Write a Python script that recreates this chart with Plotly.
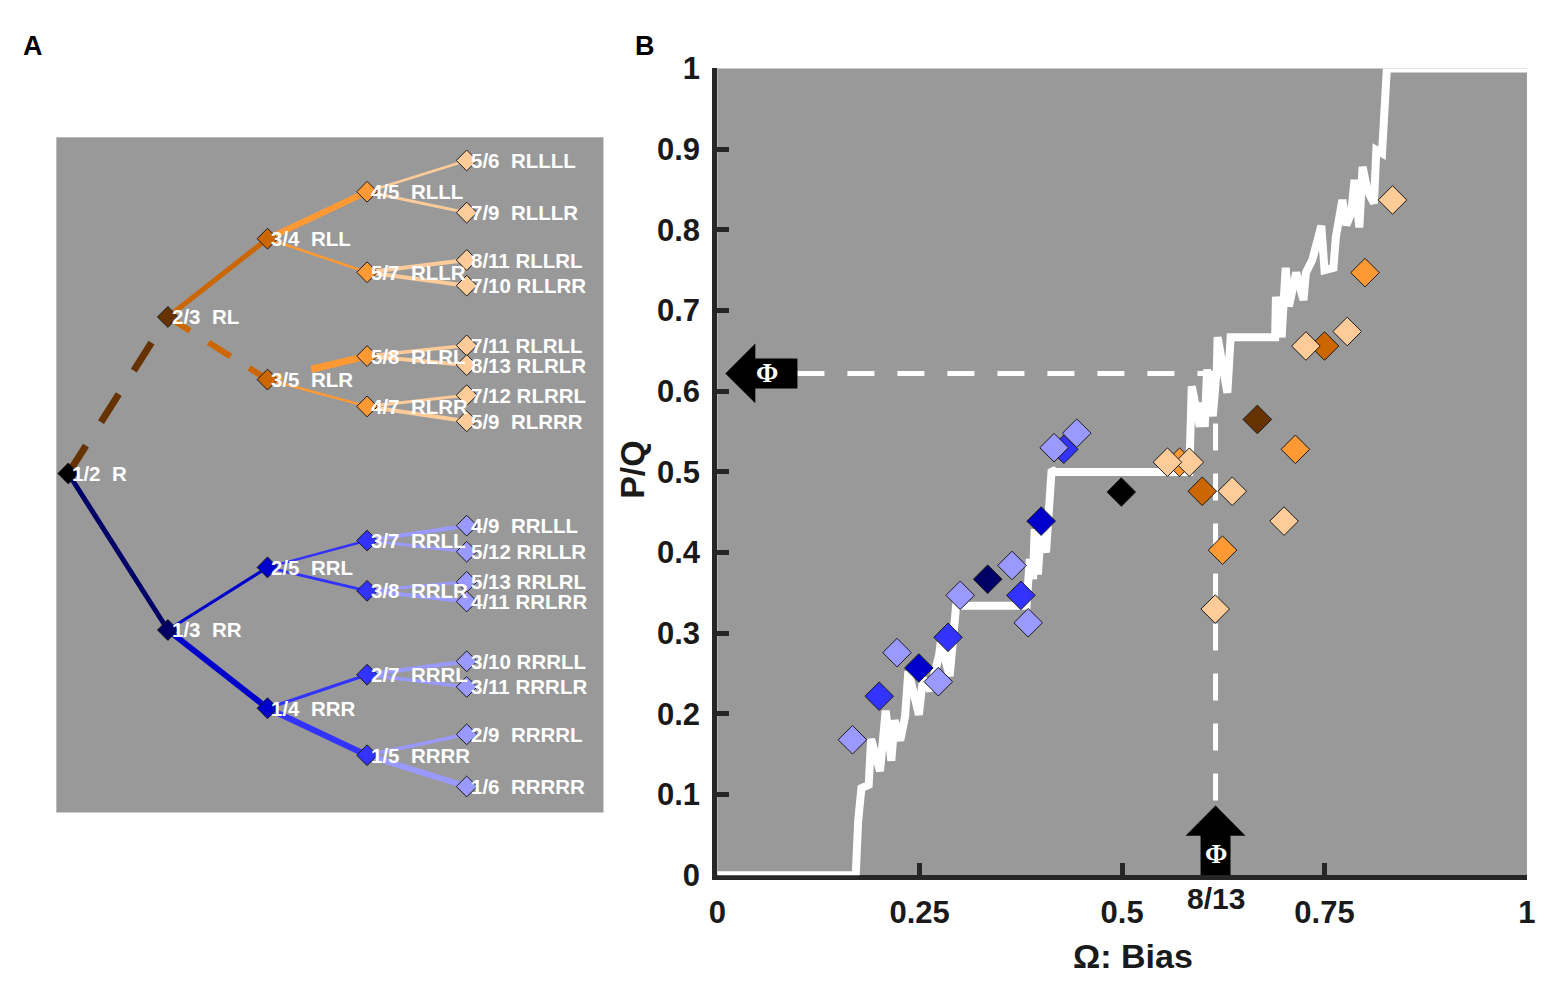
import plotly.graph_objects as go
from fractions import Fraction

# ---- data -------------------------------------------------------------
# nodes of the Farey-like tree (panel A), in level order
node_paths = ["R", "RL", "RR", "RLL", "RLR", "RRL", "RRR",
              "RLLL", "RLLR", "RLRL", "RLRR", "RRLL", "RRLR", "RRRL", "RRRR",
              "RLLLL", "RLLLR", "RLLRL", "RLLRR", "RLRLL", "RLRLR", "RLRRL", "RLRRR",
              "RRLLL", "RRLLR", "RRLRL", "RRLRR", "RRRLL", "RRRLR", "RRRRL", "RRRRR"]
node_fracs = ["1/2", "2/3", "1/3", "3/4", "3/5", "2/5", "1/4",
              "4/5", "5/7", "5/8", "4/7", "3/7", "3/8", "2/7", "1/5",
              "5/6", "7/9", "8/11", "7/10", "7/11", "8/13", "7/12", "5/9",
              "4/9", "5/12", "5/13", "4/11", "3/10", "3/11", "2/9", "1/6"]

# panel B: measured bias and P/Q for each node (same order)
omega_pts = [0.499, 0.667, 0.334, 0.750, 0.599, 0.400, 0.249,
             0.800, 0.714, 0.624, 0.571, 0.428, 0.375, 0.285, 0.200,
             0.834, 0.778, 0.727, 0.700, 0.636, 0.615, 0.583, 0.556,
             0.444, 0.416, 0.384, 0.364, 0.300, 0.273, 0.222, 0.167]
pq_pts = [0.475, 0.565, 0.367, 0.656, 0.476, 0.439, 0.257,
          0.747, 0.528, 0.403, 0.512, 0.528, 0.347, 0.295, 0.222,
          0.837, 0.674, 0.656, 0.439, 0.476, 0.330, 0.512, 0.512,
          0.548, 0.530, 0.313, 0.384, 0.347, 0.240, 0.276, 0.168]

# white staircase curve
omega_curve = [0.0, 0.171, 0.174, 0.178, 0.187, 0.190, 0.201, 0.208, 0.215, 0.219,
               0.226, 0.232, 0.236, 0.249, 0.254, 0.263, 0.274, 0.276, 0.287, 0.295,
               0.382, 0.386, 0.390, 0.392, 0.396, 0.400, 0.406, 0.413, 0.417, 0.583,
               0.586, 0.596, 0.598, 0.602, 0.605, 0.612, 0.617, 0.618, 0.630, 0.634,
               0.689, 0.690, 0.697, 0.702, 0.706, 0.715, 0.724, 0.727, 0.735, 0.746,
               0.750, 0.761, 0.764, 0.772, 0.777, 0.783, 0.787, 0.793, 0.797, 0.803,
               0.811, 0.814, 0.821, 0.824, 0.827, 0.827, 1.0]
pq_curve = [0.0, 0.0, 0.067, 0.108, 0.112, 0.169, 0.129, 0.204, 0.142, 0.192,
            0.167, 0.197, 0.253, 0.199, 0.244, 0.229, 0.273, 0.289, 0.247, 0.334,
            0.334, 0.392, 0.367, 0.429, 0.373, 0.433, 0.400, 0.503, 0.500, 0.500,
            0.606, 0.556, 0.586, 0.556, 0.627, 0.569, 0.629, 0.667, 0.598, 0.667,
            0.667, 0.717, 0.667, 0.753, 0.705, 0.747, 0.713, 0.747, 0.763, 0.805,
            0.750, 0.753, 0.791, 0.837, 0.806, 0.821, 0.862, 0.803, 0.878, 0.849,
            0.833, 0.899, 0.895, 0.936, 0.969, 1.0, 1.0]

phi_x = 8 / 13      # golden-mean bias marked on the x axis
phi_y = 0.622       # corresponding P/Q

x_ticks = [0, 0.25, 0.5, 0.75, 1]
x_ticklabels = ["0", "0.25", "0.5", "0.75", "1"]
y_ticks = [0, 0.1, 0.2, 0.3, 0.4, 0.5, 0.6, 0.7, 0.8, 0.9, 1]
y_ticklabels = ["0", "0.1", "0.2", "0.3", "0.4", "0.5", "0.6", "0.7", "0.8", "0.9", "1"]

# ---- styles -----------------------------------------------------------
left_colors = ["#000000", "#663300", "#cc6600", "#ff9933", "#ffcc99"]
right_colors = ["#000000", "#000066", "#0000cc", "#3333ff", "#9999ff"]

edge_style = {
    "RL": (7, "33px,28px"), "RR": (5, "solid"),
    "RLL": (5, "solid"), "RLR": (6, "26px,22px"),
    "RRL": (3, "solid"), "RRR": (6, "solid"),
    "RLLL": (6, "solid"), "RLLR": (2.5, "solid"), "RLRL": (7, "15px,30px,60px"),
    "RLRR": (2.5, "solid"), "RRLL": (2.5, "solid"), "RRLR": (3, "solid"),
    "RRRL": (3, "solid"), "RRRR": (6, "solid"),
    "RLLLL": (2.5, "solid"), "RLLLR": (3, "solid"), "RLLRL": (4, "solid"),
    "RLLRR": (4, "solid"), "RLRLL": (3.5, "solid"), "RLRLR": (4, "solid"),
    "RLRRL": (3, "solid"), "RLRRR": (4, "solid"),
    "RRLLL": (4, "solid"), "RRLLR": (3, "solid"), "RRLRL": (3, "solid"),
    "RRLRR": (4, "solid"), "RRRLL": (4, "solid"), "RRRLR": (3.5, "solid"),
    "RRRRL": (3.5, "solid"), "RRRRR": (6, "solid"),
}


# the page shot is offset/scaled a little, so place things by screen pixel
def px_x(px):
    return (px - 15.6) / 1546.5


def px_y(py):
    return 1 - (py - 24.4) / 967.6


def node_color(path):
    lev = len(path) - 1
    if lev == 0:
        return left_colors[0]
    return left_colors[lev] if path[1] == "L" else right_colors[lev]


node_level = [len(p) for p in node_paths]
node_value = [float(Fraction(f)) for f in node_fracs]
node_cols = [node_color(p) for p in node_paths]
idx = {p: i for i, p in enumerate(node_paths)}

fig = go.Figure()

# ---- panel A: tree ----------------------------------------------------
for p in node_paths[1:]:
    par = idx[p[:-1]]
    me = idx[p]
    w, d = edge_style[p]
    fig.add_trace(go.Scatter(
        x=[node_level[par], node_level[me]],
        y=[node_value[par], node_value[me]],
        mode="lines", line=dict(color=node_cols[me], width=w, dash=d),
        hoverinfo="skip", xaxis="x", yaxis="y"))

fig.add_trace(go.Scatter(
    x=node_level, y=node_value, mode="markers",
    marker=dict(symbol="diamond", size=16, color=node_cols,
                line=dict(color="#1a1a1a", width=1)),
    xaxis="x", yaxis="y"))

annotations = []
for p, f, lv, v in zip(node_paths, node_fracs, node_level, node_value):
    sep = "\u00a0\u00a0" if len(f) <= 3 else " "
    annotations.append(dict(
        x=lv, y=v, xref="x", yref="y", text=f + sep + p, showarrow=False,
        xanchor="left", yanchor="middle", xshift=2,
        font=dict(family="Liberation Sans", size=20.5, color="white", weight="bold")))

# ---- panel B ----------------------------------------------------------
fig.add_trace(go.Scatter(
    x=omega_curve, y=pq_curve, mode="lines",
    line=dict(color="white", width=8), hoverinfo="skip",
    xaxis="x2", yaxis="y2"))

fig.add_trace(go.Scatter(
    x=omega_pts, y=pq_pts, mode="markers",
    marker=dict(symbol="diamond", size=22, color=node_cols,
                line=dict(color="#1a1a1a", width=1)),
    xaxis="x2", yaxis="y2"))

dash_line = dict(color="white", width=5, dash="27px,23px")
head_h, shaft_h = 0.037, 0.0185
shapes = [
    dict(type="line", xref="x2", yref="y2", x0=0.099, x1=phi_x, y0=phi_y, y1=phi_y,
         line=dash_line, layer="below"),
    dict(type="line", xref="x2", yref="y2", x0=phi_x, x1=phi_x, y0=phi_y, y1=0.0865,
         line=dash_line, layer="below"),
    # left arrow
    dict(type="path", xref="x2", yref="y2", fillcolor="black", line=dict(width=0),
         path=(f"M 0.010,{phi_y} L 0.047,{phi_y + head_h} L 0.047,{phi_y + shaft_h} "
               f"L 0.099,{phi_y + shaft_h} L 0.099,{phi_y - shaft_h} "
               f"L 0.047,{phi_y - shaft_h} L 0.047,{phi_y - head_h} Z")),
    # bottom arrow
    dict(type="path", xref="x2", yref="y2", fillcolor="black", line=dict(width=0),
         path=(f"M {phi_x},0.0865 L {phi_x + head_h},0.049 L {phi_x + shaft_h},0.049 "
               f"L {phi_x + shaft_h},0 L {phi_x - shaft_h},0 L {phi_x - shaft_h},0.049 "
               f"L {phi_x - head_h},0.049 Z")),
]

phi_font = dict(family="Liberation Serif", size=27, color="white", weight="bold")
dark_font = dict(family="Liberation Sans", color="#1a1a1a", weight="bold")
annotations += [
    dict(x=0.062, y=phi_y, xref="x2", yref="y2", text="\u03a6", showarrow=False,
         font=phi_font),
    dict(x=phi_x, y=0.027, xref="x2", yref="y2", text="\u03a6", showarrow=False,
         font=phi_font),
    dict(x=phi_x, y=px_y(900), xref="x2", yref="paper", text="8/13", showarrow=False,
         xanchor="center", yanchor="middle", font=dict(dark_font, size=30)),
    dict(x=px_x(1133), y=px_y(958), xref="paper", yref="paper", text="\u03a9: Bias",
         showarrow=False, xanchor="center", yanchor="middle",
         font=dict(dark_font, size=34)),
    dict(x=px_x(632), y=px_y(470), xref="paper", yref="paper", text="P/Q",
         showarrow=False, textangle=-90, xanchor="center", yanchor="middle",
         font=dict(dark_font, size=34)),
    dict(x=px_x(32), y=px_y(45), xref="paper", yref="paper", text="A",
         showarrow=False, xanchor="center", yanchor="middle",
         font=dict(family="Liberation Sans", size=27, color="black", weight="bold")),
    dict(x=px_x(645), y=px_y(45), xref="paper", yref="paper", text="B",
         showarrow=False, xanchor="center", yanchor="middle",
         font=dict(family="Liberation Sans", size=27, color="black", weight="bold")),
]

tick_font = dict(family="Liberation Sans", size=31, color="#1a1a1a", weight="bold")

fig.update_layout(
    width=1562, height=1000,
    margin=dict(l=0, r=0, t=0, b=0),
    paper_bgcolor="white", plot_bgcolor="#999999",
    showlegend=False,
    xaxis=dict(domain=[px_x(55), px_x(603)], range=[0.88, 6.373], visible=False),
    yaxis=dict(domain=[px_y(814), px_y(137)], range=[0.139, 0.858], visible=False),
    xaxis2=dict(domain=[px_x(717), px_x(1528)], range=[0, 1], anchor="y2",
                tickvals=x_ticks, ticktext=x_ticklabels, ticks="inside",
                ticklen=12, tickwidth=5, tickcolor="#262626",
                showline=True, linecolor="#262626", linewidth=5,
                showgrid=False, zeroline=False, tickfont=tick_font,
                ticklabelstandoff=5, layer="below traces"),
    yaxis2=dict(domain=[px_y(877), px_y(68)], range=[0, 1], anchor="x2",
                tickvals=y_ticks, ticktext=y_ticklabels, ticks="inside",
                ticklen=12, tickwidth=5, tickcolor="#262626",
                showline=True, linecolor="#262626", linewidth=5,
                showgrid=False, zeroline=False, tickfont=tick_font,
                ticklabelstandoff=6),
    shapes=shapes,
    annotations=annotations,
)

fig.write_html("out.html")
